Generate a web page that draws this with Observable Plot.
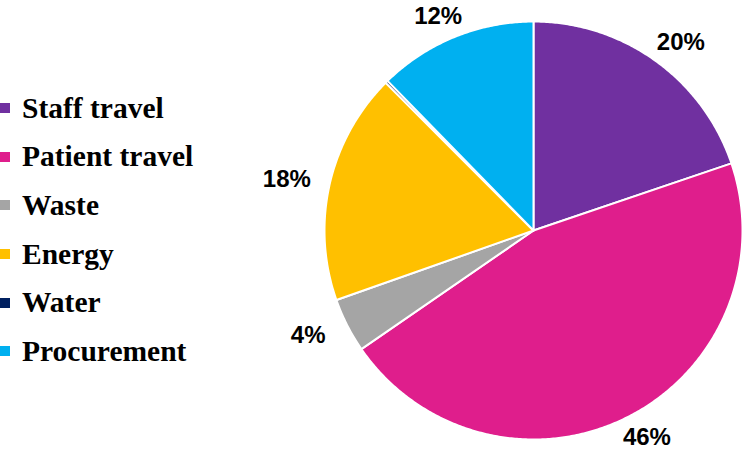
<!DOCTYPE html>
<html>
<head>
<meta charset="utf-8">
<script src="https://cdn.jsdelivr.net/npm/d3@7"></script>
<script src="https://cdn.jsdelivr.net/npm/@observablehq/plot@0.6"></script>
<style>
  html, body { margin: 0; padding: 0; background: #fff; }
  #wrap { position: relative; width: 744px; height: 451px; overflow: hidden; }
  #legend { position: absolute; left: 0; top: 84px; }
  .row { display: flex; align-items: center; height: 48.6px; }
  .sw { width: 10px; height: 10px; margin-right: 12px; flex: none; }
  .lab { font-family: "Liberation Serif", "Times New Roman", serif; font-weight: bold; font-size: 29.5px; color: #000; white-space: nowrap; }
</style>
</head>
<body>
<div id="wrap"><div id="chart"></div><div id="legend"></div></div>
<script>
const categories = ["Staff travel", "Patient travel", "Waste", "Energy", "Water", "Procurement"];
const shares = [19.8, 45.6, 4.2, 17.9, 0.2, 12.3];
const colors = ["#7030A0", "#DF1E8C", "#A5A5A5", "#FFC000", "#002060", "#00B0F0"];

// pie geometry (unit radius, centred at 0,0, starting at 12 o'clock, clockwise)
const arcs = d3.pie().sort(null).value(d => d)(shares);
const points = [];
arcs.forEach((a, i) => {
  const cat = categories[i];
  points.push({cat, x: 0, y: 0});
  const n = Math.max(2, Math.ceil((a.endAngle - a.startAngle) / (Math.PI / 360)));
  for (let k = 0; k <= n; k++) {
    const t = a.startAngle + (a.endAngle - a.startAngle) * k / n;
    points.push({cat, x: Math.sin(t), y: Math.cos(t)});
  }
});
// outside-end labels on a slightly flattened ring
const labelRx = 1.21, labelRy = 1.105;
const labels = arcs.map((a, i) => {
  const m = (a.startAngle + a.endAngle) / 2;
  return {cat: categories[i], v: shares[i], x: labelRx * Math.sin(m), y: labelRy * Math.cos(m)};
}).filter(d => Math.round(d.v) >= 1);

const R = 209, cx = 533, cy = 230, W = 744, H = 451;
const chart = Plot.plot({
  width: W, height: H,
  margin: 0,
  x: {domain: [-cx / R, (W - cx) / R], axis: null},
  y: {domain: [-(H - cy) / R, cy / R], axis: null},
  color: {domain: categories, range: colors},
  marks: [
    Plot.line(points, {x: "x", y: "y", z: "cat", fill: "cat", stroke: "white", strokeWidth: 2, strokeLinejoin: "round", curve: "linear-closed"}),
    Plot.text(labels, {x: "x", y: "y", text: d => Math.round(d.v) + "%", fontSize: 24, fontWeight: "bold", fill: "#000", fontFamily: "Liberation Sans, Arial, sans-serif"})
  ]
});
document.getElementById("chart").appendChild(chart);

const legend = document.getElementById("legend");
categories.forEach((c, i) => {
  const row = document.createElement("div");
  row.className = "row";
  const sw = document.createElement("div");
  sw.className = "sw";
  sw.style.background = colors[i];
  const lab = document.createElement("span");
  lab.className = "lab";
  lab.textContent = c;
  row.appendChild(sw); row.appendChild(lab);
  legend.appendChild(row);
});
</script>
</body>
</html>
